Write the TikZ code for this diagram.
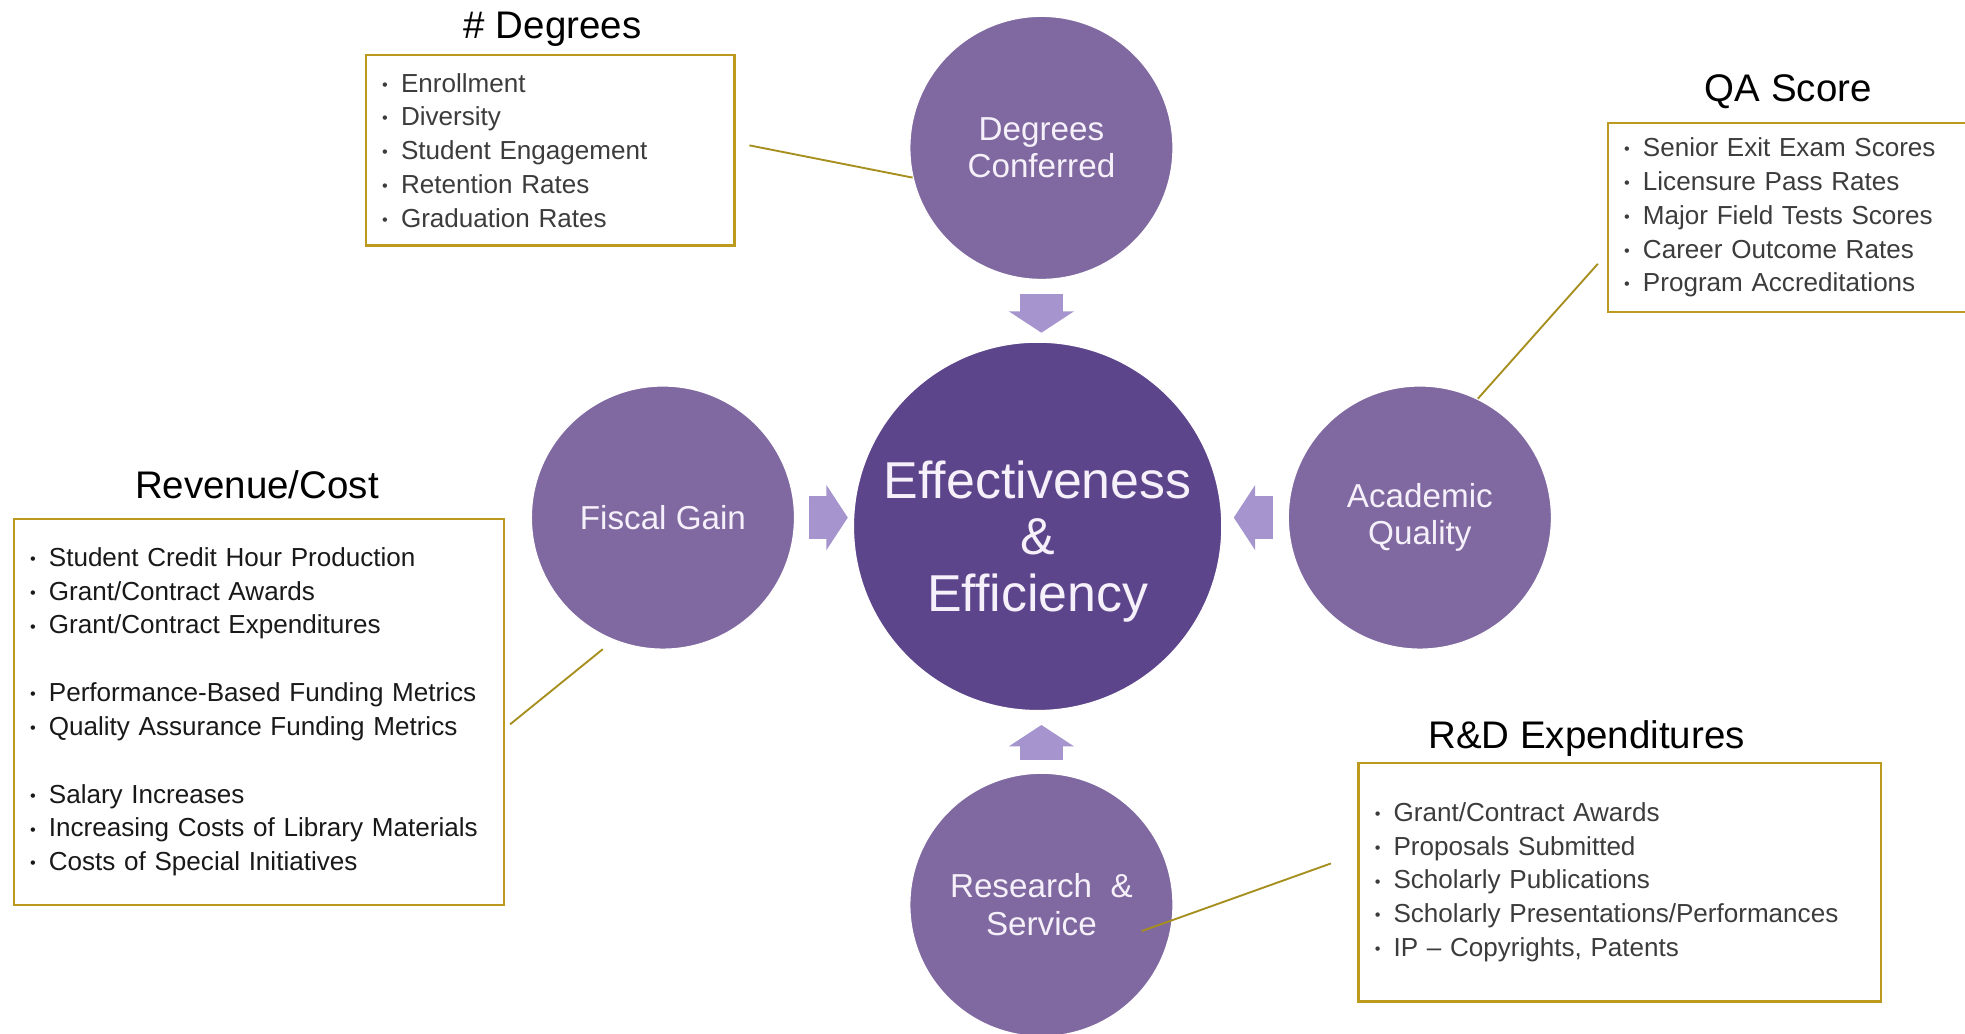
\documentclass[tikz,border=0pt]{standalone}
\usepackage{fontspec}
\setmainfont{Liberation Sans}
\usepackage{xcolor}
\usepackage{tikz}
\usetikzlibrary{arrows.meta, positioning, calc}
\definecolor{plumdeep}{HTML}{5D458C}
\definecolor{plummid}{HTML}{7F69A0}
\definecolor{lavenderlight}{HTML}{A594CD}
\definecolor{goldframe}{HTML}{BC9A1E}
\definecolor{goldline}{HTML}{A68F1E}
\definecolor{inkgray}{HTML}{3C3C3C}
\definecolor{circletext}{HTML}{F6F0FA}
\newcommand{\bul}{\makebox[15pt][l]{\raisebox{1.5pt}{\fontsize{13}{13}\selectfont\textbullet}}}

\begin{document}
\begin{tikzpicture}[x=1pt, y=-1pt,
    every node/.style={inner sep=0pt},
    hub/.style={circle, minimum size=210pt, fill=plummid, draw=white, line width=1pt,
      text=circletext, align=center, font=\fontsize{26.5}{30}\selectfont},
    listbox/.style={draw=goldframe, line width=2pt, fill=white, anchor=north west,
      inner xsep=13pt, align=left, text=inkgray, font=\fontsize{20.8}{27}\selectfont},
    heading/.style={anchor=base, font=\fontsize{30.7}{32}\selectfont},
    blockarrow/.style={lavenderlight, line width=34pt, -{Triangle[length=17pt, width=51pt]}},
    lead/.style={goldline, line width=1.5pt}]
    \useasboundingbox (0,0) rectangle (1568,825);

    % centre and the four drivers
    \node[hub, fill=plumdeep, minimum size=294pt, font=\fontsize{41.4}{45}\selectfont] (core) at (828,420)
      {\raisebox{0pt}[\dimexpr\height+24pt]{Effectiveness}\\\&\\Efficiency};
    \node[hub] (conf) at (831,118) {Degrees\\Conferred};
    \node[hub] (fisc) at (529,413) {Fiscal Gain};
    \node[hub] (acad) at (1133,413) {Academic\\Quality};
    \node[hub] (res) at (831,722) {Research\ \ \&\\Service};

    % block arrows into the centre
    \draw[blockarrow, shorten <=11pt, shorten >=7pt] (conf.south) -- (core.north -| conf.south);
    \draw[blockarrow, shorten <=11pt, shorten >=4pt] (fisc.east) -- (fisc.east -| core.west);
    \draw[blockarrow, shorten <=12pt, shorten >=9pt] (acad.west) -- (acad.west -| core.east);
    \draw[blockarrow, shorten <=10pt, shorten >=11pt] (res.north) -- (res.north |- core.south);

    % measure lists
    \node[listbox, minimum width=294pt, minimum height=152pt, text width=268pt] (deg) at (291,43)
      {\bul Enrollment\\\bul Diversity\\\bul Student Engagement\\\bul Retention Rates\\\bul Graduation Rates};
    \node[listbox, minimum width=300pt, minimum height=151pt, text width=274pt] (qa) at (1282,97)
      {\bul Senior Exit Exam Scores\\\bul Licensure Pass Rates\\\bul Major Field Tests Scores\\\bul Career Outcome Rates\\\bul Program Accreditations};
    \node[listbox, minimum width=391pt, minimum height=308pt, text width=365pt, text=black!90] (rev) at (10,413)
      {\bul Student Credit Hour Production\\\bul Grant/Contract Awards\\\bul Grant/Contract Expenditures\\[27pt]
       \bul Performance-Based Funding Metrics\\\bul Quality Assurance Funding Metrics\\[27pt]
       \bul Salary Increases\\\bul Increasing Costs of Library Materials\\\bul Costs of Special Initiatives};
    \node[listbox, minimum width=417pt, minimum height=190pt, text width=391pt] (rnd) at (1083,608)
      {\bul Grant/Contract Awards\\\bul Proposals Submitted\\\bul Scholarly Publications\\\bul Scholarly Presentations/Performances\\\bul IP -- Copyrights, Patents};

    % headings
    \node[heading] (degtitle) at (441,31) {\# Degrees};
    \node[heading] (qatitle) at (1427,81) {QA Score};
    \node[heading] (revtitle) at (205,398) {Revenue/Cost};
    \node[heading] (rndtitle) at (1266,597) {R\&D Expenditures};

    % lead lines from lists to drivers
    \draw[lead] ([xshift=11pt, yshift=4pt]deg.east) -- (conf.193);
    \draw[lead] ([xshift=-7pt, yshift=-37pt]qa.west) -- (acad.64);
    \draw[lead] ([xshift=4pt, yshift=-10pt]rev.east) -- ([xshift=-48pt, yshift=-105pt]fisc.center);
    \draw[lead] ([xshift=-21pt, yshift=15pt]rnd.west) -- ([xshift=80pt, yshift=-21pt]res.center);
  \end{tikzpicture}
\end{document}
